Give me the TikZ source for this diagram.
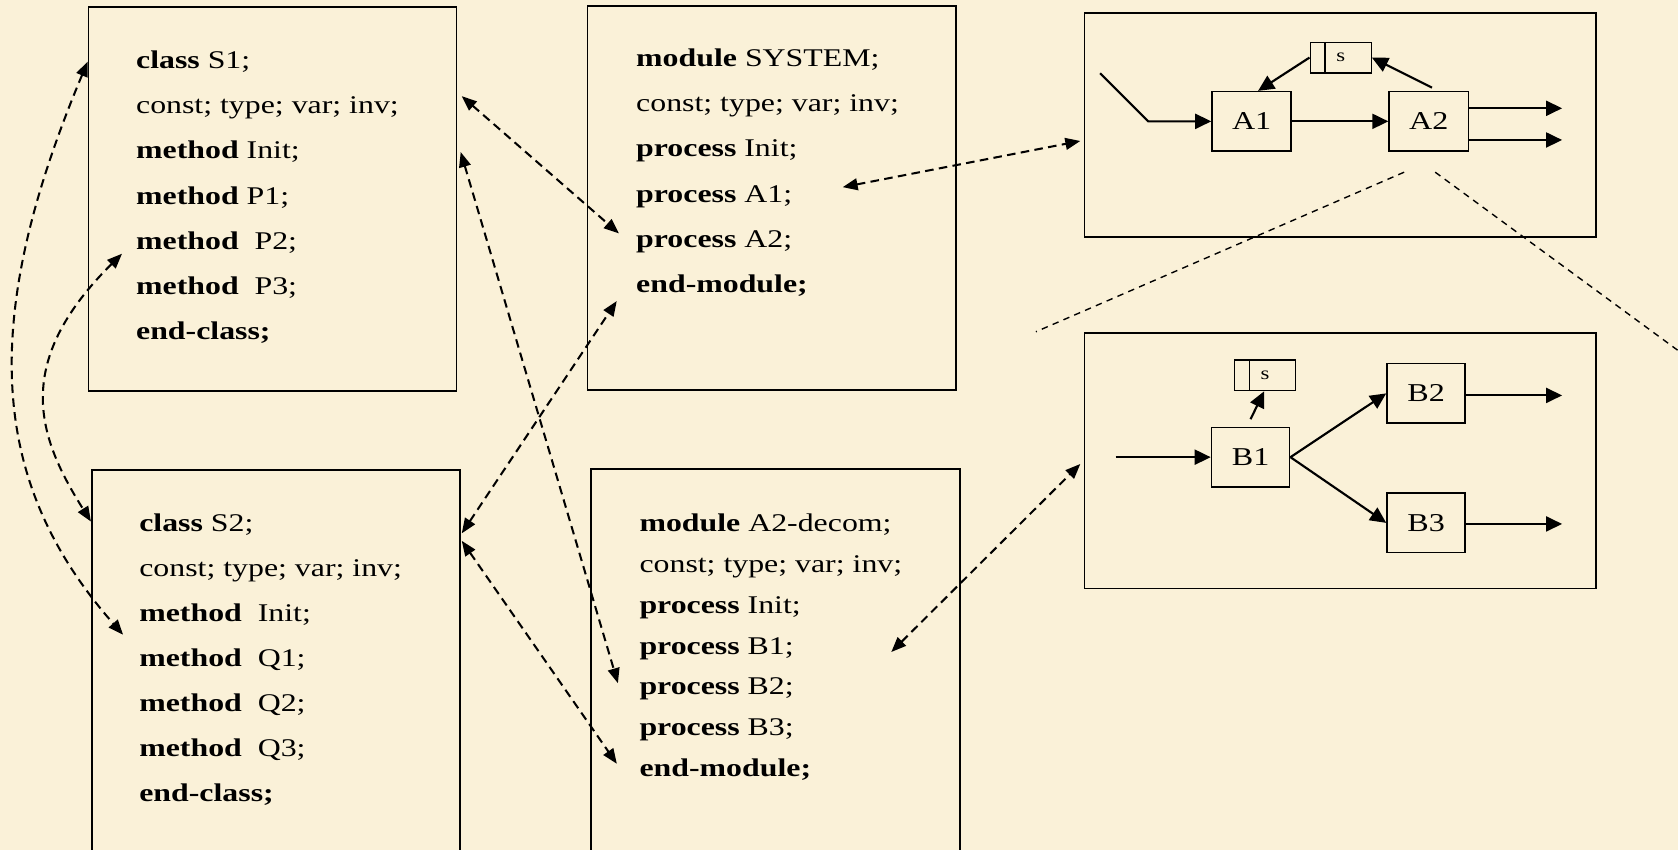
\documentclass[tikz,border=0pt]{standalone}
\usepackage{fontspec}
\setmainfont{Liberation Serif}[FakeStretch=1.25]
\usetikzlibrary{arrows.meta,positioning,calc}
\definecolor{parchment}{RGB}{250,241,216}
\newcommand{\codesize}{\fontsize{23.8}{28}\selectfont}

\begin{document}
\begin{tikzpicture}[x=1pt,y=-1pt,>={Triangle[length=14pt,width=11pt]},
  panel/.style={draw, line width=1.5pt, anchor=north west, inner sep=0pt},
  codeline/.style={anchor=base west, inner sep=0pt, font=\codesize},
  blk/.style={draw, line width=1.5pt, minimum width=74pt, minimum height=55.5pt, font=\fontsize{24}{28}\selectfont},
  sbox/.style={draw, line width=1.3pt, minimum width=57pt, minimum height=28.5pt, inner sep=0pt, font=\fontsize{17}{20}\selectfont,
    path picture={\draw[line width=1.3pt] ([xshift=14pt]path picture bounding box.north west) -- ([xshift=14pt]path picture bounding box.south west);}},
  flow/.style={->, line width=2pt, >={Triangle[length=15pt,width=14pt]}},
  link/.style={<->, line width=1.9pt, dash pattern=on 8pt off 5pt},
  zoomline/.style={line width=1.3pt, dash pattern=on 6pt off 5pt}]
    \path [use as bounding box, fill=parchment] (0,0) rectangle (1568,794);
    \clip (0,0) rectangle (1568,794);

    % classes and modules
    \node [panel, minimum width=344pt, minimum height=358.5pt] (cls1) at (82,6) {};
    \node [panel, minimum width=344pt, minimum height=380pt] (cls2) at (85,438.5) {};
    \node [panel, minimum width=344.5pt, minimum height=359pt] (mod1) at (548.3,4.7) {};
    \node [panel, minimum width=344.8pt, minimum height=380pt] (mod2) at (551.3,437.6) {};

    \foreach \txt [count=\i] in {{\textbf{class} S1;}, {const; type; var; inv;}, {\textbf{method} Init;}, {\textbf{method} P1;}, {\textbf{method}\ \ P2;}, {\textbf{method}\ \ P3;}, {\textbf{end-class;}}}
        \node [codeline] (cls1-\i) at (127, 21.6+42.3*\i) {\txt};
    \foreach \txt [count=\i] in {{\textbf{class} S2;}, {const; type; var; inv;}, {\textbf{method}\ \ Init;}, {\textbf{method}\ \ Q1;}, {\textbf{method}\ \ Q2;}, {\textbf{method}\ \ Q3;}, {\textbf{end-class;}}}
        \node [codeline] (cls2-\i) at (130, 454.8+42*\i) {\txt};
    \foreach \txt [count=\i] in {{\textbf{module} SYSTEM;}, {const; type; var; inv;}, {\textbf{process} Init;}, {\textbf{process} A1;}, {\textbf{process} A2;}, {\textbf{end-module;}}}
        \node [codeline] (mod1-\i) at (594.3, 20.1+42.2*\i) {\txt};
    \foreach \txt [count=\i] in {{\textbf{module} A2-decom;}, {const; type; var; inv;}, {\textbf{process} Init;}, {\textbf{process} B1;}, {\textbf{process} B2;}, {\textbf{process} B3;}, {\textbf{end-module;}}}
        \node [codeline] (mod2-\i) at (597.4, 458.65+38.15*\i) {\txt};

    % process nets
    \node [panel, minimum width=478pt, minimum height=209pt] (net1) at (1012.5,11.5) {};
    \node [panel, minimum width=478pt, minimum height=238.6pt] (net2) at (1012.5,310.5) {};

    \node [blk] (A1) at (1169.6,113.4) {A1};
    \node [blk, right=90pt of A1] (A2) {A2};
    \node [sbox] (sA) at (1252.8,53.8) {s};
    \coordinate (inA) at (1028,68.4);
    \coordinate (outA1) at (1459.7,101.2);
    \coordinate (outA2) at (1459.7,130.8);
    \draw [flow] (inA) -- ++(45,45) -- (A1);
    \draw [flow] (A1) -- (A2);
    \draw [flow] (sA.west) -- ([xshift=6pt]A1.north);
    \draw [flow] ([shift={(3,-3)}]A2.north) -- (sA.east);
    \draw [flow] (A2.east |- outA1) -- (outA1);
    \draw [flow] (A2.east |- outA2) -- (outA2);

    \node [blk, minimum width=73pt] (B1) at (1168.6,427.2) {B1};
    \node [blk, minimum width=73pt] (B2) at (1332.6,367.6) {B2};
    \node [blk, minimum width=73pt, below=64pt of B2] (B3) {B3};
    \node [sbox] (sB) at (1182.2,350.8) {s};
    \coordinate (inB) at (1042.5,427.2);
    \coordinate (outB2) at (1459.7,369.5);
    \coordinate (outB3) at (1459.7,489.6);
    \draw [flow] (inB) -- (B1);
    \draw [flow] ([yshift=7pt]B1.north) -- ([xshift=-1pt]sB.south);
    \draw [flow] (B1.east) -- (B2.west);
    \draw [flow] (B1.east) -- (B3.west);
    \draw [flow] (B2.east |- outB2) -- (outB2);
    \draw [flow] (B3.east |- outB3) -- (outB3);

    % A2 opened up
    \coordinate (zl) at (968,310);
    \coordinate (zr) at (1600,351);
    \draw [zoomline] ([shift={(-23,19)}]A2.south) -- (zl);
    \draw [zoomline] ([shift={(6,19)}]A2.south) -- (zr);

    % links between texts
    \draw [link] (cls1.west |- cls1-1) .. controls +(-102,243) and +(-125,-142) .. ([shift={(-15,-13)}]cls2-4.north west);
    \draw [link] ([shift={(-13,4)}]cls1-5.base west) .. controls +(-104,103) and +(-49,-78) .. ($(cls2.west |- cls2-1)+(0,-3)$);
    \draw [link] ($(cls1.east |- cls1-2)+(4,-11)$) -- ([shift={(-16,-13)}]mod1-5.base west);
    \draw [link] ($(cls1.east |- cls1-3)+(3,0)$) -- ([shift={(-20,-11)}]mod2-5.base west);
    \draw [link] ($(cls2.east |- cls2-1)+(1,8)$) -- ([shift={(-18,8)}]mod1-6.base west);
    \draw [link] ($(cls2.east |- cls2-1)+(1,15)$) -- ([shift={(-21,-12)}]mod2-7.base west);
    \draw [link] ([shift={(47,-14)}]mod1-4.base east) -- ($(net1.west)+(-3,15)$);
    \draw [link] ([shift={(91,-2)}]mod2-4.base east) -- ($(net2.west)+(-3,3)$);
\end{tikzpicture}
\end{document}
